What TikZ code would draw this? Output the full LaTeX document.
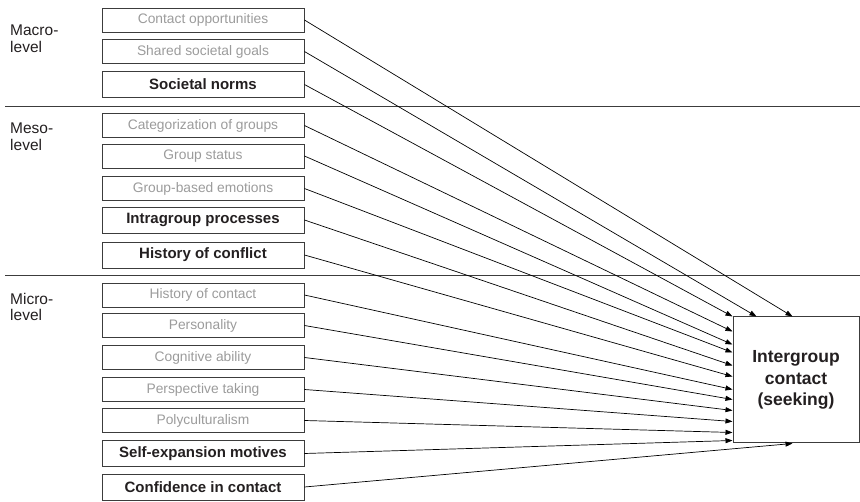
\documentclass[tikz,border=0pt]{standalone}
\usepackage{fontspec}
\setmainfont{Liberation Sans}
\usetikzlibrary{arrows.meta}
\definecolor{lighttext}{HTML}{9B9B9B}
\definecolor{boxborder}{HTML}{3C3C3C}
\definecolor{darktext}{HTML}{231F20}
\begin{document}
\begin{tikzpicture}[x=1pt,y=-1pt,
  factor/.style={draw=boxborder, line width=0.9pt, minimum width=202pt, minimum height=24pt, inner sep=0pt, text=lighttext, font=\fontsize{13.8}{16}\selectfont},
  keyfactor/.style={factor, minimum height=26pt, text=darktext, font=\fontsize{15}{17}\bfseries\selectfont},
  levellabel/.style={anchor=north west, align=left, inner sep=0pt, font=\fontsize{15.5}{16.5}\selectfont, text=darktext},
  link/.style={-{Triangle[length=7pt,width=5pt]}, line width=0.7pt, draw=black},
  sepline/.style={draw=boxborder, line width=1pt},
  target/.style={draw=boxborder, line width=1pt, minimum width=126pt, minimum height=126pt, inner sep=0pt, align=center, text=darktext, font=\fontsize{17.5}{21.5}\bfseries\selectfont}]
\useasboundingbox (0,0) rectangle (860,502);

% level labels
\node[levellabel] (macro) at (10,25) {Macro-\\level};
\node[levellabel] (meso) at (10,123) {Meso-\\level};
\node[levellabel] (micro) at (10,293) {Micro-\\level};

% separators
\coordinate (s1a) at (5,107); \coordinate (s1b) at (860,107);
\coordinate (s2a) at (5,276); \coordinate (s2b) at (860,276);
\draw[sepline] (s1a) -- (s1b);
\draw[sepline] (s2a) -- (s2b);

% factors
\node[factor] (co) at (203,20) {Contact opportunities};
\node[factor] (ssg) at (203,51.5) {Shared societal goals};
\node[keyfactor] (sn) at (203,84.5) {Societal norms};
\node[factor] (cat) at (203,125.5) {Categorization of groups};
\node[factor] (gs) at (203,156) {Group status};
\node[factor] (gbe) at (203,188.5) {Group-based emotions};
\node[keyfactor] (ip) at (203,220) {Intragroup processes};
\node[keyfactor] (hcf) at (203,255) {History of conflict};
\node[factor] (hct) at (203,295) {History of contact};
\node[factor] (pers) at (203,325.5) {Personality};
\node[factor] (cog) at (203,357.5) {Cognitive ability};
\node[factor] (persp) at (203,389.5) {Perspective taking};
\node[factor] (poly) at (203,420.5) {Polyculturalism};
\node[keyfactor] (self) at (203,453.5) {Self-expansion motives};
\node[keyfactor] (conf) at (203,487) {Confidence in contact};

% target
\node[target] (T) at (796,380) {Intergroup\\contact\\(seeking)};

% links
\draw[link] (co.east) -- ([xshift=60pt]T.north west);
\draw[link] (ssg.east) -- ([xshift=24pt]T.north west);
\draw[link] (sn.east) -- (T.north west);
\draw[link] (cat.east) -- ([yshift=-15pt]T.north west);
\draw[link] (gs.east) -- ([yshift=-28pt]T.north west);
\draw[link] (gbe.east) -- ([yshift=-36pt]T.north west);
\draw[link] (ip.east) -- ([yshift=-49pt]T.north west);
\draw[link] (hcf.east) -- ([yshift=-60pt]T.north west);
\draw[link] (hct.east) -- ([yshift=-73pt]T.north west);
\draw[link] (pers.east) -- ([yshift=-83pt]T.north west);
\draw[link] (cog.east) -- ([yshift=-94pt]T.north west);
\draw[link] (persp.east) -- ([yshift=-105pt]T.north west);
\draw[link] (poly.east) -- ([yshift=-116pt]T.north west);
\draw[link] (self.east) -- ([yshift=-124pt]T.north west);
\draw[link] (conf.east) -- ([xshift=60pt]T.south west);
\end{tikzpicture}
\end{document}
